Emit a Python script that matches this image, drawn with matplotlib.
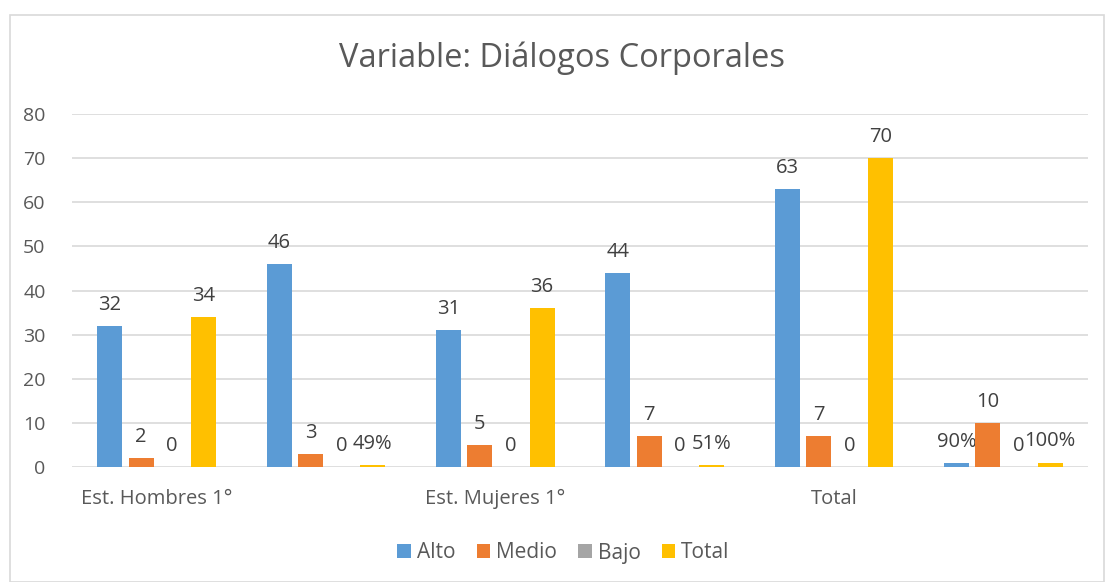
import matplotlib
matplotlib.use("Agg")
import matplotlib.pyplot as plt
import numpy as np
from matplotlib.patches import Rectangle

categories = ["Est. Hombres 1°", "", "Est. Mujeres 1°", "", "Total", ""]
series_names = ["Alto", "Medio", "Bajo", "Total"]
alto = [32, 46, 31, 44, 63, 0.9]
medio = [2, 3, 5, 7, 7, 10]
bajo = [0, 0, 0, 0, 0, 0]
total = [34, 0.49, 36, 0.51, 70, 1.0]
alto_labels = ["32", "46", "31", "44", "63", "90%"]
medio_labels = ["2", "3", "5", "7", "7", "10"]
bajo_labels = ["0", "0", "0", "0", "0", "0"]
total_labels = ["34", "49%", "36", "51%", "70", "100%"]
yticks = [0, 10, 20, 30, 40, 50, 60, 70, 80]

colors = ["#5B9BD5", "#ED7D31", "#A5A5A5", "#FFC000"]
txt = "#595959"
font = "Open Sans"

fig = plt.figure(figsize=(11.05, 5.82), dpi=100)
fig.patches.append(Rectangle((10/1105, 0), 1 - 10/1105 - 0.001, 1 - 15/582,
                             transform=fig.transFigure, fill=False,
                             edgecolor="#D9D9D9", linewidth=1.2))
ax = fig.add_axes([72/1105, 1 - 467/582, (1088 - 72)/1105, (467 - 114)/582])

x = np.arange(len(categories))
w = 0.148
step = 0.184
data = [alto, medio, bajo, total]
labels = [alto_labels, medio_labels, bajo_labels, total_labels]
for i, (vals, labs) in enumerate(zip(data, labels)):
    pos = x + (i - 1.5) * step
    ax.bar(pos, vals, width=w, color=colors[i], label=series_names[i], zorder=3)
    for px, v, lab in zip(pos, vals, labs):
        ax.annotate(lab, (px, v), xytext=(0, 8), textcoords="offset points",
                    ha="center", va="bottom", fontsize=14.5, color="#404040",
                    family=font)

ax.set_xlim(-0.5, len(categories) - 0.5)
ax.set_ylim(0, 80)
ax.set_yticks(yticks)
ax.set_yticklabels([str(t) for t in yticks], fontsize=14, color=txt, family=font)
ax.set_xticks(x)
ax.set_xticklabels(categories, fontsize=14.5, color=txt, family=font)
ax.tick_params(axis="both", length=0)
ax.tick_params(axis="y", pad=19)
ax.tick_params(axis="x", pad=16)
ax.grid(axis="y", color="#D9D9D9", linewidth=1.2, zorder=0)
for s in ax.spines.values():
    s.set_visible(False)

fig.text(0.509, 1 - 58/582, "Variable: Diálogos Corporales", ha="center", va="center",
         fontsize=23.5, color=txt, family=font)

leg = fig.legend(loc="center", bbox_to_anchor=(0.51, 1 - 553/582), ncol=4, frameon=False,
                 handlelength=0.65, handleheight=0.65, handletextpad=0.3,
                 columnspacing=1.0, prop={"family": font, "size": 15})
for t in leg.get_texts():
    t.set_color(txt)

fig.savefig("out.png", dpi=100)
